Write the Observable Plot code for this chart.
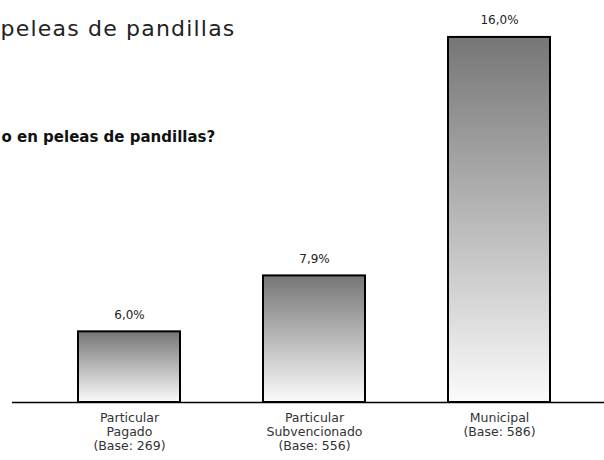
<!DOCTYPE html>
<html>
<head>
<meta charset="utf-8">
<script src="https://cdn.jsdelivr.net/npm/d3@7"></script>
<script src="https://cdn.jsdelivr.net/npm/@observablehq/plot@0.6"></script>
<style>
  html, body { margin: 0; padding: 0; background: #fff; }
  #chart svg { display: block; }
</style>
</head>
<body>
<div id="chart"></div>
<script>
const titleText = "peleas de pandillas";
const subtitleText = "o en peleas de pandillas?";
const categories = [
  "Particular\nPagado\n(Base: 269)",
  "Particular\nSubvencionado\n(Base: 556)",
  "Municipal\n(Base: 586)"
];
const values = [6.0, 7.9, 16.0];
const valueLabels = ["6,0%", "7,9%", "16,0%"];

const data = categories.map((c, i) => ({ category: c, value: values[i], label: valueLabels[i] }));

const yMin = 3.6;
const yMax = 17.255;
const font = "'Century Gothic', 'URW Gothic', 'DejaVu Sans', sans-serif";

const gradientDefs = () => {
  const defs = d3.create("svg:defs");
  const g = defs.append("linearGradient")
    .attr("id", "barGrad")
    .attr("x1", 0).attr("y1", 0).attr("x2", 0).attr("y2", 1);
  g.append("stop").attr("offset", "0%").attr("stop-color", "#767676");
  g.append("stop").attr("offset", "100%").attr("stop-color", "#fbfbfb");
  return defs.node();
};

const chart = Plot.plot({
  width: 604,
  height: 460,
  marginTop: 0,
  marginBottom: 58,
  marginLeft: 12,
  marginRight: 0,
  style: { fontFamily: font, background: "#fff", color: "#222" },
  x: { domain: categories, paddingInner: 0.45, paddingOuter: 0.319, align: 0.549, label: null },
  y: { domain: [yMin, yMax], axis: null },
  marks: [
    gradientDefs,
    Plot.barY(data, {
      x: "category", y1: yMin, y2: "value",
      fill: "url(#barGrad)", stroke: "#000", strokeWidth: 2
    }),
    Plot.ruleY([yMin], { stroke: "#000", strokeWidth: 1.5 }),
    Plot.text(data, {
      x: "category", y: "value", text: "label",
      dy: -17, lineAnchor: "middle", fontSize: 12, fill: "#222"
    }),
    Plot.axisX({
      tickSize: 0, tickPadding: 10, fontSize: 12.5, lineHeight: 1.1,
      fill: "#333", label: null
    }),
    Plot.text([titleText], {
      text: d => d, frameAnchor: "top-left", textAnchor: "start",
      lineAnchor: "middle", dx: -12, dy: 28, fontSize: 22, fill: "#222"
    }),
    Plot.text([subtitleText], {
      text: d => d, frameAnchor: "top-left", textAnchor: "start",
      lineAnchor: "middle", dx: -11, dy: 137, fontSize: 15, fontWeight: "bold", fill: "#111"
    })
  ]
});

d3.select(chart).selectAll("text")
  .filter(function () { return this.textContent === titleText; })
  .style("letter-spacing", "1.2px");

document.getElementById("chart").appendChild(chart);
</script>
</body>
</html>
